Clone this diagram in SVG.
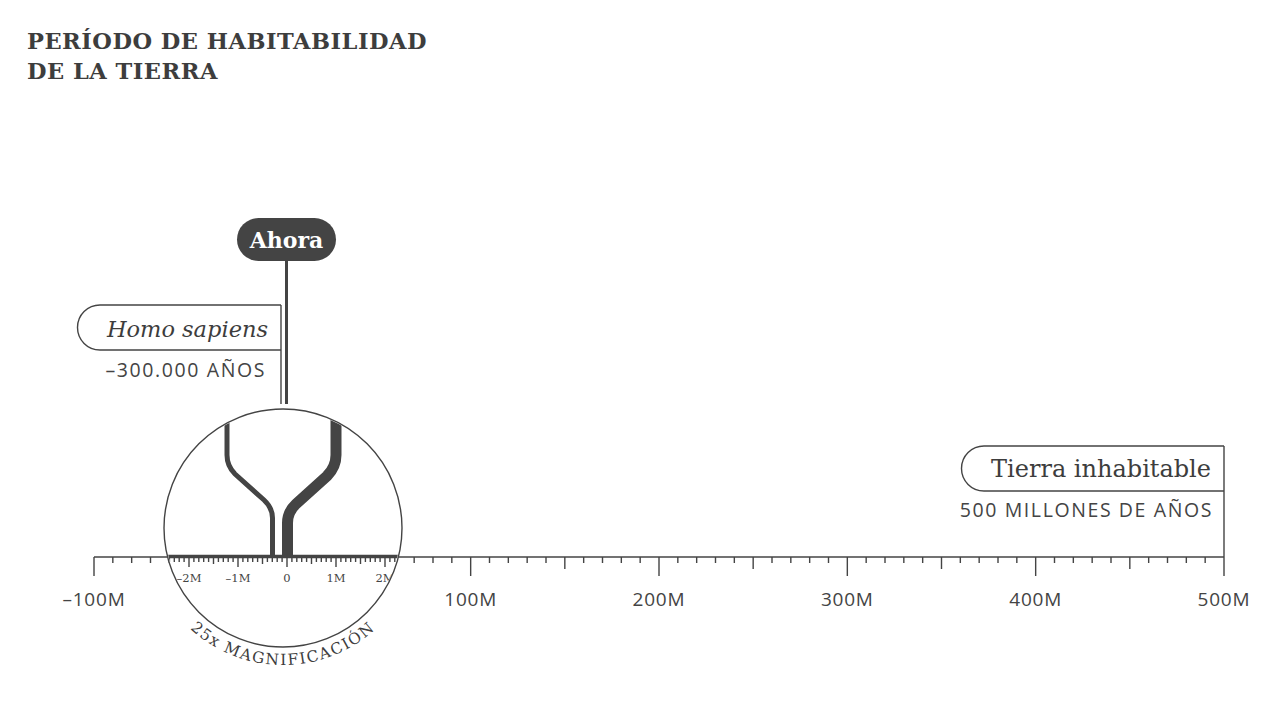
<svg xmlns="http://www.w3.org/2000/svg" width="1278" height="708" viewBox="0 0 1278 708">
<style>
.title{font-family:"DejaVu Serif","Liberation Serif",serif;font-weight:bold;font-size:22.5px;fill:#3d3d3d;letter-spacing:0.5px}
.serif{font-family:"DejaVu Serif","Liberation Serif",serif;fill:#3d3d3d}
.sans{font-family:"Open Sans","Noto Sans",sans-serif;fill:#444;font-size:19.5px;letter-spacing:1.6px}
.ax{font-family:"Open Sans","Noto Sans",sans-serif;fill:#444;font-size:19px;letter-spacing:0.8px;text-anchor:middle}
.ln{fill:none;stroke:#444;stroke-width:1.4}
.tick{fill:none;stroke:#444;stroke-width:1.4}
.inl{font-family:"DejaVu Serif","Liberation Serif",serif;fill:#444;font-size:11.5px;text-anchor:middle}
</style>
<defs>
<clipPath id="lens"><circle cx="283" cy="528" r="118"/></clipPath>
<path id="arc" d="M146,528 A137,137 0 0 0 420,528"/>
</defs>
<rect width="1278" height="708" fill="#ffffff"/>

<g id="title">
<text class="title" x="27" y="49">PERÍODO DE HABITABILIDAD</text>
<text class="title" x="27" y="79">DE LA TIERRA</text>
</g>

<g id="axis">
<line class="ln" x1="94" y1="557" x2="1224" y2="557" stroke-width="2"/>
<path class="tick" d="M112.83 557v6M131.67 557v6M150.5 557v6M169.33 557v6M207 557v6M225.83 557v6M244.67 557v6M263.5 557v6M301.17 557v6M320 557v6M338.83 557v6M357.67 557v6M395.33 557v6M414.17 557v6M433 557v6M451.83 557v6M489.5 557v6M508.33 557v6M527.17 557v6M546 557v6M583.67 557v6M602.5 557v6M621.33 557v6M640.17 557v6M677.83 557v6M696.67 557v6M715.5 557v6M734.33 557v6M772 557v6M790.83 557v6M809.67 557v6M828.5 557v6M866.17 557v6M885 557v6M903.83 557v6M922.67 557v6M960.33 557v6M979.17 557v6M998 557v6M1016.83 557v6M1054.5 557v6M1073.33 557v6M1092.17 557v6M1111 557v6M1148.67 557v6M1167.5 557v6M1186.33 557v6M1205.17 557v6"/>
<path class="tick" d="M188.17 557v12M376.5 557v12M564.83 557v12M753.17 557v12M941.5 557v12M1129.83 557v12"/>
<path class="tick" d="M94 557v19M282.33 557v19M470.67 557v19M659 557v19M847.33 557v19M1035.67 557v19M1224 557v19"/>
<text class="ax" x="94" y="606">–100M</text>
<text class="ax" x="470.67" y="606">100M</text>
<text class="ax" x="659" y="606">200M</text>
<text class="ax" x="847.33" y="606">300M</text>
<text class="ax" x="1035.67" y="606">400M</text>
<text class="ax" x="1224" y="606">500M</text>
</g>

<g id="connectors">
<line class="ln" x1="281" y1="305" x2="281" y2="404"/>
<line x1="286.5" y1="260" x2="286.5" y2="404" stroke="#444" stroke-width="3"/>
<line class="ln" x1="1224" y1="446" x2="1224" y2="557"/>
</g>

<g id="ahora">
<rect x="237" y="218" width="99" height="43" rx="21.5" fill="#444"/>
<text class="serif" x="286.5" y="248" font-size="22" font-weight="bold" text-anchor="middle" style="fill:#fff">Ahora</text>
</g>

<g id="homo-sapiens">
<path class="ln" d="M281,305 H100 A22.5,22.5 0 0 0 100,350 H281"/>
<text class="serif" x="268" y="337" font-size="22.5" font-style="italic" text-anchor="end">Homo sapiens</text>
<text class="sans" x="266" y="377" text-anchor="end">–300.000 AÑOS</text>
</g>

<g id="tierra-inhabitable">
<path class="ln" d="M1224,446 H984 A22.5,22.5 0 0 0 984,491 H1224"/>
<text class="serif" x="1211" y="477" font-size="24" text-anchor="end">Tierra inhabitable</text>
<text class="sans" x="1213" y="517" text-anchor="end">500 MILLONES DE AÑOS</text>
</g>

<g id="lens-view">
<circle cx="283" cy="528" r="119" fill="#ffffff" stroke="#444" stroke-width="1.4"/>
<g clip-path="url(#lens)">
<line x1="160" y1="556.5" x2="410" y2="556.5" stroke="#444" stroke-width="3.5"/>
<path class="tick" stroke-width="1.1" d="M169.4 557v5M174.3 557v5M179.2 557v5M184.1 557v5M193.9 557v5M198.8 557v5M203.7 557v5M208.6 557v5M218.4 557v5M223.3 557v5M228.2 557v5M233.1 557v5M242.9 557v5M247.8 557v5M252.7 557v5M257.6 557v5M267.4 557v5M272.3 557v5M277.2 557v5M282.1 557v5M291.9 557v5M296.8 557v5M301.7 557v5M306.6 557v5M316.4 557v5M321.3 557v5M326.2 557v5M331.1 557v5M340.9 557v5M345.8 557v5M350.7 557v5M355.6 557v5M365.4 557v5M370.3 557v5M375.2 557v5M380.1 557v5M389.9 557v5M394.8 557v5M399.7 557v5"/>
<path class="tick" stroke-width="1.1" d="M213.5 557v7M262.5 557v7M311.5 557v7M360.5 557v7"/>
<path class="tick" stroke-width="1.3" d="M189 557v10M238 557v10M287 557v10M336 557v10M385 557v10"/>
<text class="inl" x="189" y="582">–2M</text>
<text class="inl" x="238" y="582">–1M</text>
<text class="inl" x="287" y="582">0</text>
<text class="inl" x="336" y="582">1M</text>
<text class="inl" x="385" y="582">2M</text>
<path d="M227,400 V455 Q227,466 235,474 L264,500 Q272.5,508 272.5,518 V557" fill="none" stroke="#444" stroke-width="5"/>
<path d="M336,400 V455 Q336,467 327,476 L296,504 Q287.5,512 287.5,523 V557" fill="none" stroke="#444" stroke-width="11"/>
</g>
<text class="serif" font-size="15.5" letter-spacing="1.6" fill="#444"><textPath href="#arc" startOffset="50%" text-anchor="middle">25x MAGNIFICACIÓN</textPath></text>
</g>
</svg>
